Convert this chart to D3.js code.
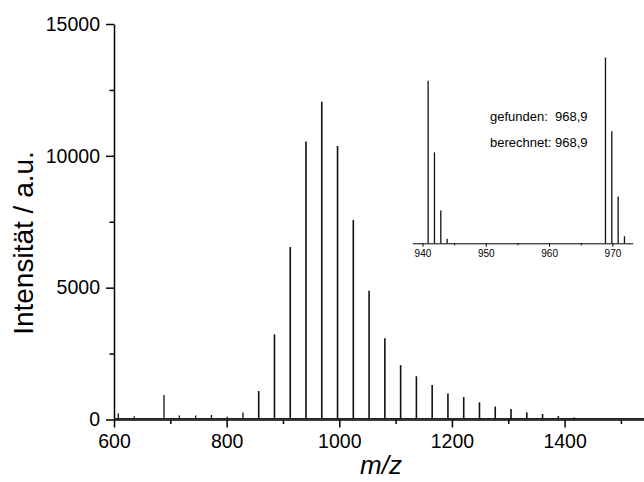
<!DOCTYPE html>
<html>
<head>
<meta charset="utf-8">
<script src="https://cdn.jsdelivr.net/npm/d3@7"></script>
<style>
  body { margin: 0; background: #fff; }
  svg { display: block; font-family: "Liberation Sans", Arial, sans-serif; }
</style>
</head>
<body>
<svg width="644" height="482"></svg>
<script>
// main series: m/z of the oligomer peaks (spacing 28) and their heights
var peakMz  = [856.9, 884.9, 912.9, 940.9, 968.9, 996.9, 1024.9, 1052.9, 1080.9, 1108.9, 1136.9,
               1164.9, 1192.9, 1220.9, 1248.9, 1276.9, 1304.9, 1332.9, 1360.9, 1388.9, 1416.9];
var peakInt = [1080, 3230, 6540, 10540, 12050, 10370, 7570, 4880, 3080, 2060, 1640,
               1310, 990, 850, 650, 490, 400, 270, 210, 130, 80];

// smaller peaks off the main series
var minorMz  = [607.6, 636, 688.8, 716, 745, 773, 801, 829, 1445, 1473];
var minorInt = [235, 120, 930, 150, 150, 170, 100, 270, 45, 30];

// inset: zoom on 938..973
var insetMz  = [940.9, 941.9, 942.9, 943.9, 968.9, 969.9, 970.9, 971.9];
var insetInt = [10540, 5900, 2130, 300, 12050, 7260, 3040, 455];

var xTicks = [600, 800, 1000, 1200, 1400];
var xMinor = [700, 900, 1100, 1300, 1500];
var yTicks = [0, 5000, 10000, 15000];
var yMinor = [2500, 7500, 12500];
var insetTicks = [940, 950, 960, 970];
var insetMinor = [945, 955, 965];

var svg = d3.select('svg');

var x = d3.scaleLinear().domain([600, 1541]).range([114, 644]);
var y = d3.scaleLinear().domain([0, 15000]).range([419.5, 24]);

// axes
var xAxis = svg.append('g').attr('transform', 'translate(0,419.5)');
xAxis.call(d3.axisBottom(x).tickValues(xTicks).tickFormat(d3.format('d'))
    .tickSize(8).tickPadding(7).tickSizeOuter(0));
svg.append('g').attr('transform', 'translate(0,419.5)')
    .call(d3.axisBottom(x).tickValues(xMinor).tickSize(4.5).tickFormat('').tickSizeOuter(0))
    .select('.domain').remove();

var yAxis = svg.append('g').attr('transform', 'translate(114,0)');
yAxis.call(d3.axisLeft(y).tickValues(yTicks).tickFormat(d3.format('d'))
    .tickSize(8).tickPadding(6).tickSizeOuter(0));
svg.append('g').attr('transform', 'translate(114,0)')
    .call(d3.axisLeft(y).tickValues(yMinor).tickSize(4.5).tickFormat('').tickSizeOuter(0))
    .select('.domain').remove();

svg.selectAll('.domain, .tick line').attr('stroke', '#000').attr('stroke-width', 1.5);
xAxis.selectAll('text').style('font-size', '19.5px').attr('fill', '#000');
yAxis.selectAll('text').style('font-size', '19.5px').attr('fill', '#000');

// baseline
svg.append('line')
    .attr('x1', x(600)).attr('x2', x(1541))
    .attr('y1', y(25)).attr('y2', y(25))
    .attr('stroke', '#222').attr('stroke-width', 1.5);

// peaks
svg.selectAll('.minor')
    .data(minorMz)
    .enter()
    .append('line')
    .attr('class', 'minor')
    .attr('x1', function(d){ return x(d); })
    .attr('x2', function(d){ return x(d); })
    .attr('y1', y(0))
    .attr('y2', function(d, i){ return y(minorInt[i]); })
    .attr('stroke', '#111').attr('stroke-width', 1.3);

svg.selectAll('.peak')
    .data(peakMz)
    .enter()
    .append('line')
    .attr('class', 'peak')
    .attr('x1', function(d){ return x(d); })
    .attr('x2', function(d){ return x(d); })
    .attr('y1', y(0))
    .attr('y2', function(d, i){ return y(peakInt[i]); })
    .attr('stroke', '#111').attr('stroke-width', 1.6);

// axis titles
svg.append('text')
    .text('Intensität / a.u.')
    .attr('transform', 'translate(33,243)rotate(-90)')
    .style('text-anchor', 'middle')
    .style('font-size', '28px');

svg.append('text')
    .text('m/z')
    .attr('transform', 'translate(381,474)')
    .style('text-anchor', 'middle')
    .style('font-size', '26px')
    .style('font-style', 'italic');

// inset
var ix = d3.scaleLinear().domain([938.4, 973.2]).range([412.3, 632.7]);
var iy = d3.scaleLinear().domain([0, 12050]).range([243.3, 57.5]);

var inset = svg.append('g');
var ixAxis = inset.append('g').attr('transform', 'translate(0,243.3)');
ixAxis.call(d3.axisBottom(ix).tickValues(insetTicks).tickSize(3.5).tickPadding(3).tickSizeOuter(0));
ixAxis.selectAll('text').style('font-size', '10px').attr('fill', '#000');
inset.append('g').attr('transform', 'translate(0,243.3)')
    .call(d3.axisBottom(ix).tickValues(insetMinor).tickSize(2).tickFormat('').tickSizeOuter(0))
    .select('.domain').remove();
inset.selectAll('.domain, .tick line').attr('stroke', '#000').attr('stroke-width', 1);

inset.selectAll('.ipeak')
    .data(insetMz)
    .enter()
    .append('line')
    .attr('class', 'ipeak')
    .attr('x1', function(d){ return ix(d); })
    .attr('x2', function(d){ return ix(d); })
    .attr('y1', iy(0))
    .attr('y2', function(d, i){ return iy(insetInt[i]); })
    .attr('stroke', '#111').attr('stroke-width', 1.3);

inset.append('text')
    .text('gefunden:  968,9')
    .attr('x', 490).attr('y', 120.5)
    .style('font-size', '13px')
    .style('white-space', 'pre');
inset.append('text')
    .text('berechnet: 968,9')
    .attr('x', 490).attr('y', 146.5)
    .style('font-size', '13px');
</script>
</body>
</html>
